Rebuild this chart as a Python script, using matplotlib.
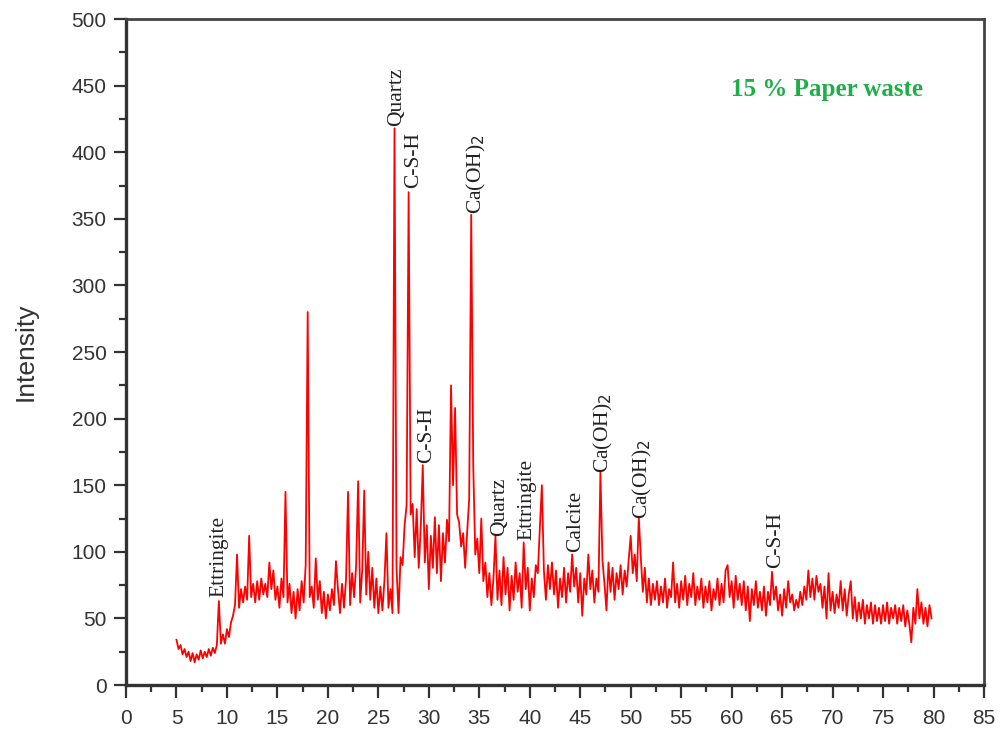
import numpy as np
import matplotlib
matplotlib.use("Agg")
import matplotlib.pyplot as plt
from matplotlib.ticker import MultipleLocator

# XRD pattern, 15 % paper waste
# intensity, 2-theta from 5.0 in steps of 0.2 (10 values per row)
intensity = [
    34, 27, 30, 23, 27, 21, 25, 18, 24, 17,          # 5.0
    23, 19, 26, 20, 25, 21, 27, 22, 28, 24,          # 7.0
    30, 63, 31, 38, 31, 42, 36, 47, 52, 60,          # 9.0
    98, 58, 72, 62, 74, 64, 112, 66, 76, 62,         # 11.0
    78, 64, 80, 68, 76, 66, 92, 72, 86, 64,          # 13.0
    74, 58, 80, 66, 145, 62, 76, 54, 70, 50,         # 15.0
    72, 56, 78, 62, 90, 280, 66, 74, 58, 95,         # 17.0
    64, 78, 54, 70, 50, 68, 56, 72, 60, 93,          # 19.0
    72, 54, 76, 58, 80, 145, 60, 84, 66, 90,         # 21.0
    153, 62, 86, 146, 68, 100, 64, 88, 58, 80,       # 23.0
    54, 74, 56, 78, 114, 58, 72, 54, 418, 88,        # 25.0
    54, 96, 90, 120, 135, 370, 128, 136, 96, 132,    # 27.0
    88, 118, 165, 92, 120, 72, 112, 88, 126, 84,     # 29.0
    120, 78, 114, 92, 124, 108, 225, 150, 208, 128,  # 31.0
    122, 104, 114, 88, 115, 140, 353, 165, 98, 110,  # 33.0
    84, 125, 78, 92, 66, 84, 60, 80, 112, 64,        # 35.0
    86, 60, 96, 68, 88, 56, 82, 64, 92, 70,          # 37.0
    84, 58, 107, 72, 88, 56, 80, 66, 90, 84,         # 39.0
    118, 150, 86, 64, 90, 72, 92, 68, 86, 58,        # 41.0
    80, 66, 88, 62, 84, 70, 98, 74, 88, 62,          # 43.0
    84, 52, 80, 68, 98, 72, 86, 62, 80, 70,          # 45.0
    160, 94, 76, 56, 92, 70, 88, 64, 84, 72,         # 47.0
    90, 68, 86, 74, 94, 112, 84, 98, 78, 126,        # 49.0
    96, 70, 88, 62, 80, 60, 76, 64, 78, 60,          # 51.0
    74, 62, 80, 58, 72, 66, 92, 62, 76, 58,          # 53.0
    78, 64, 82, 60, 76, 66, 84, 60, 74, 64,          # 55.0
    80, 58, 74, 62, 78, 56, 72, 64, 80, 60,          # 57.0
    76, 62, 86, 90, 66, 78, 58, 82, 64, 76,          # 59.0
    60, 78, 56, 74, 48, 72, 60, 78, 58, 70,          # 61.0
    56, 74, 52, 70, 60, 85, 64, 74, 56, 68,          # 63.0
    52, 72, 58, 78, 62, 68, 56, 64, 58, 70,          # 65.0
    60, 74, 64, 86, 66, 80, 64, 82, 70, 76,          # 67.0
    58, 74, 50, 84, 56, 70, 54, 68, 58, 78,          # 69.0
    56, 72, 52, 68, 78, 50, 66, 48, 62, 50,          # 71.0
    64, 46, 60, 50, 62, 46, 60, 48, 58, 46,          # 73.0
    60, 48, 62, 46, 58, 50, 60, 46, 58, 48,          # 75.0
    60, 44, 56, 46, 32, 58, 46, 72, 50, 62,          # 77.0
    46, 58, 44, 60, 50,                              # 79.0
]
start_2theta = 5.0
step_2theta = 0.2

# phase labels: text, x, y of label foot
phase_labels = ["Ettringite", "Quartz", "C-S-H", "Ca(OH)$_2$", "C-S-H", "Quartz",
                "Ettringite", "Calcite", "Ca(OH)$_2$", "Ca(OH)$_2$", "C-S-H"]
label_x = [9.2, 26.8, 28.5, 34.7, 29.8, 37.0, 39.7, 44.5, 47.3, 51.2, 64.4]
label_y = [66, 420, 373, 354, 167, 112, 109, 100, 159, 125, 88]

x_ticks = list(range(0, 90, 5))
y_ticks = list(range(0, 550, 50))

plt.rcParams['font.family'] = ['Liberation Sans', 'DejaVu Sans']

two_theta = start_2theta + step_2theta * np.arange(len(intensity))

fig = plt.figure(figsize=(10, 7.38), dpi=100)
ax = fig.add_axes([0.126, 0.0718, 0.858, 0.9024])

ax.plot(two_theta, intensity, color='#ff0000', lw=1.3)

for txt, lx, ly in zip(phase_labels, label_x, label_y):
    ax.text(lx, ly, txt, rotation=90, ha='center', va='bottom',
            fontsize=15.5, family='Liberation Serif', color='#222222')

ax.text(0.705, 0.894, '15 % Paper waste', transform=ax.transAxes,
        fontsize=18, fontweight='bold', family='Liberation Serif',
        color='#1fae4a', ha='left', va='center')

ax.set_xlim(0, 85)
ax.set_ylim(0, 500)
ax.set_xticks(x_ticks)
ax.set_yticks(y_ticks)
ax.xaxis.set_minor_locator(MultipleLocator(2.5))
ax.yaxis.set_minor_locator(MultipleLocator(25))
ax.tick_params(which='major', length=9, width=1.6, color='#333333',
               labelsize=15, labelcolor='#333333', pad=5)
ax.tick_params(which='minor', length=5, width=1.6, color='#333333')
ax.tick_params(axis='x', which='major', pad=8)

for side in ['left', 'bottom']:
    ax.spines[side].set_linewidth(2.4)
    ax.spines[side].set_color('#333333')
for side in ['top', 'right']:
    ax.spines[side].set_linewidth(2.0)
    ax.spines[side].set_color('#444444')

ax.set_ylabel('Intensity', fontsize=19, color='#333333', labelpad=24)

fig.savefig('out.png', dpi=100)
